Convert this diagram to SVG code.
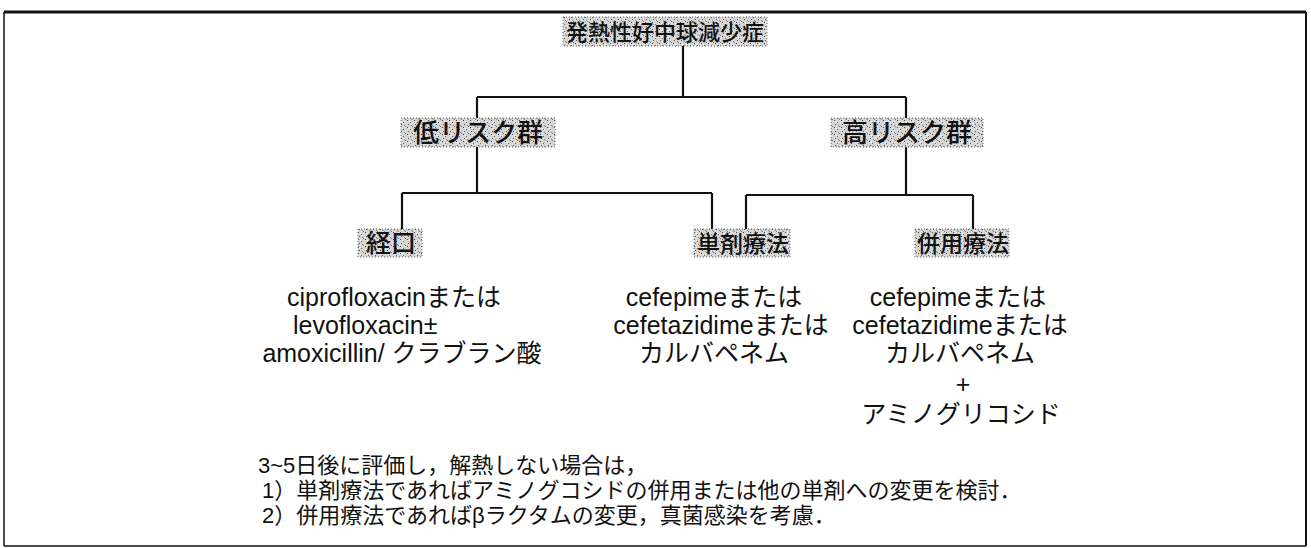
<svg xmlns="http://www.w3.org/2000/svg" width="1311" height="548" viewBox="0 0 1311 548">
<style>
.t{font-family:"Liberation Sans","Noto Sans CJK JP",sans-serif;font-size:25px;fill:#111}
.n{font-family:"Liberation Sans","Noto Sans CJK JP",sans-serif;font-size:22px;fill:#111}
.lbl{font-family:"Noto Sans CJK JP",sans-serif;fill:#111;font-weight:500}
.box{fill:url(#stip);stroke:#666;stroke-width:1;stroke-dasharray:1 2}
.ln{fill:none;stroke:#111;stroke-width:2.2}
</style>
<defs>
<pattern id="stip" width="7" height="7" patternUnits="userSpaceOnUse">
<rect width="7" height="7" fill="#d6d6d6"/>
<rect x="1" y="1" width="1" height="1" fill="#444"/>
<rect x="4" y="3" width="1" height="1" fill="#666"/>
<rect x="2" y="5" width="1" height="1" fill="#555"/>
<rect x="5" y="6" width="1" height="1" fill="#888"/>
<rect x="6" y="0" width="1" height="1" fill="#777"/>
<rect x="3" y="2" width="1" height="1" fill="#fff"/>
</pattern>
</defs>
<rect x="0" y="0" width="1311" height="548" fill="#fff"/>
<g id="frame">
<line x1="4" y1="12" x2="1306" y2="12" stroke="#111" stroke-width="3"/>
<line x1="4" y1="12" x2="4" y2="546" stroke="#111" stroke-width="1.5"/>
<line x1="1306" y1="12" x2="1306" y2="546" stroke="#111" stroke-width="2"/>
<line x1="4" y1="546" x2="1306" y2="546" stroke="#111" stroke-width="1.5"/>
</g>
<g id="connectors">
<path class="ln" d="M683 46 V97 M477 97 H906 M477 97 V118 M906 97 V118"/>
<path class="ln" d="M477 147 V193 M402 193 H712 M402 193 V229 M712 193 V229"/>
<path class="ln" d="M906 147 V195 M746 195 H973 M746 195 V229 M973 195 V229"/>
</g>
<g id="n-fever">
<rect class="box" x="563" y="17" width="204" height="29"/>
<text class="lbl" x="665" y="40" text-anchor="middle" font-size="22">発熱性好中球減少症</text>
</g>
<g id="n-low">
<rect class="box" x="401" y="118" width="154" height="29"/>
<text class="lbl" x="478" y="142" text-anchor="middle" font-size="26">低リスク群</text>
</g>
<g id="n-high">
<rect class="box" x="831" y="118" width="152" height="29"/>
<text class="lbl" x="907" y="142" text-anchor="middle" font-size="26">高リスク群</text>
</g>
<g id="n-oral">
<rect class="box" x="358" y="229" width="64" height="28"/>
<text class="lbl" x="391" y="252" text-anchor="middle" font-size="25">経口</text>
</g>
<g id="n-mono">
<rect class="box" x="694" y="229" width="96" height="28"/>
<text class="lbl" x="743" y="252" text-anchor="middle" font-size="23">単剤療法</text>
</g>
<g id="n-combo">
<rect class="box" x="915" y="229" width="94" height="28"/>
<text class="lbl" x="963" y="252" text-anchor="middle" font-size="23">併用療法</text>
</g>
<g id="oral-drugs">
<text class="t" x="287" y="306">ciprofloxacinまたは</text>
<text class="t" x="293" y="334">levofloxacin±</text>
<text class="t" x="402" y="362" text-anchor="middle">amoxicillin/ クラブラン酸</text>
</g>
<g id="mono-drugs">
<text class="t" x="714" y="306" text-anchor="middle">cefepimeまたは</text>
<text class="t" x="721" y="334" text-anchor="middle">cefetazidimeまたは</text>
<text class="t" x="714" y="362" text-anchor="middle">カルバペネム</text>
</g>
<g id="combo-drugs">
<text class="t" x="958" y="306" text-anchor="middle">cefepimeまたは</text>
<text class="t" x="960" y="334" text-anchor="middle">cefetazidimeまたは</text>
<text class="t" x="960" y="362" text-anchor="middle">カルバペネム</text>
<text class="t" x="963" y="393" text-anchor="middle" font-size="27">+</text>
<text class="t" x="961" y="423" text-anchor="middle">アミノグリコシド</text>
</g>
<g id="note">
<text class="n" x="258" y="473">3~5日後に評価し，解熱しない場合は，</text>
<text class="n" x="262" y="498">1）単剤療法であればアミノグコシドの併用または他の単剤への変更を検討．</text>
<text class="n" x="262" y="523">2）併用療法であればβラクタムの変更，真菌感染を考慮．</text>
</g>
</svg>
